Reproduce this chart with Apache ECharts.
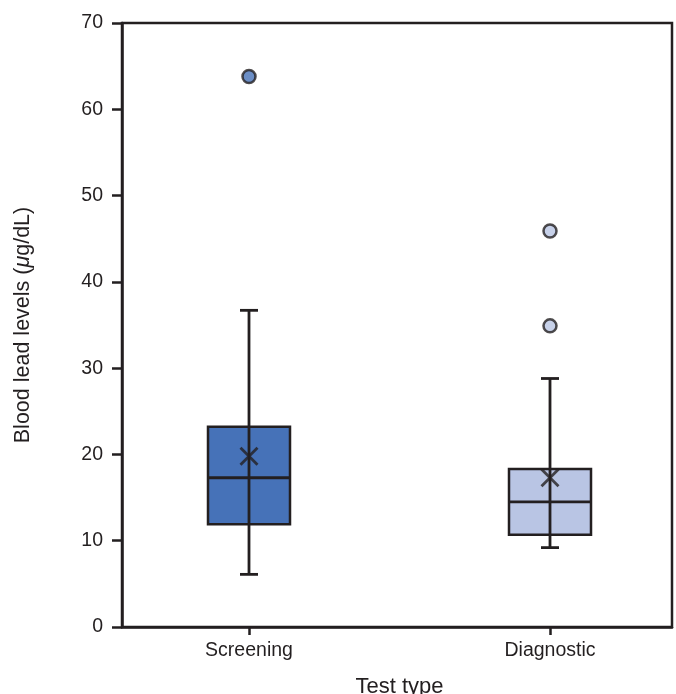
<!DOCTYPE html>
<html>
<head>
<meta charset="utf-8">
<script src="https://cdn.jsdelivr.net/npm/echarts@6/dist/echarts.min.js"></script>
<style>html,body{margin:0;padding:0;background:#fff;}#c{width:676px;height:694px;}</style>
</head>
<body>
<div id="c"></div>
<script>
const categories = ['Screening', 'Diagnostic'];
// [min whisker, Q1, median, Q3, max whisker]
const boxStats = [
  [6.1, 11.9, 17.3, 23.2, 36.7],
  [9.2, 10.7, 14.5, 18.3, 28.8]
];
const means = [19.8, 17.3];
const outliers = [
  [0, 63.8],
  [1, 45.9],
  [1, 34.9]
];
const fillColors = ['#4672B8', '#B9C5E4'];
const yTicks = [0, 10, 20, 30, 40, 50, 60, 70];

const ink = '#231F20';
const font = 'Liberation Sans';

const boxData = boxStats.map((s, i) => [i].concat(s));
const meanData = means.map((m, i) => [i, m]);

const chart = echarts.init(document.getElementById('c'), null, {renderer: 'canvas'});
chart.setOption({
  animation: false,
  grid: [
    {left: 122, right: 4, top: 23, bottom: 67, show: true, borderColor: ink, borderWidth: 2.5,
     backgroundColor: 'transparent', containLabel: false, outerBoundsMode: 'none'},
    {left: 98.5, width: 602, top: 23, bottom: 67, containLabel: false, outerBoundsMode: 'none'}
  ],
  xAxis: [
    {gridIndex: 0, type: 'value', min: 0, max: 1, axisLine: {show: true, lineStyle: {color: ink, width: 2.5}},
     axisTick: {show: false}, axisLabel: {show: false}, splitLine: {show: false}},
    {gridIndex: 1, type: 'category', data: categories, axisLine: {show: false},
     axisTick: {show: true, alignWithLabel: true, length: 8, lineStyle: {color: ink, width: 2.5}},
     axisLabel: {color: ink, fontFamily: font, fontSize: 19.5, margin: 14},
     name: 'Test type', nameLocation: 'middle', nameGap: 49,
     nameTextStyle: {color: ink, fontFamily: font, fontSize: 22}}
  ],
  yAxis: [
    {gridIndex: 0, type: 'value', min: 0, max: 70, interval: 10,
     axisLine: {show: true, lineStyle: {color: ink, width: 2.5}},
     axisTick: {show: true, length: 10, lineStyle: {color: ink, width: 2.5}},
     axisLabel: {color: ink, fontFamily: font, fontSize: 19.5, margin: 19,
       formatter: v => yTicks.includes(v) ? String(v) : ''},
     splitLine: {show: false},
     name: '{a|Blood lead levels (}{i|μ}{a|g/dL)}', nameLocation: 'middle', nameGap: 88,
     nameTextStyle: {color: ink, fontFamily: font, fontSize: 21.5,
       rich: {a: {color: ink, fontFamily: font, fontSize: 21.5}, i: {color: ink, fontFamily: font, fontSize: 21.5, fontStyle: 'italic'}}}},
    {gridIndex: 1, type: 'value', min: 0, max: 70, interval: 10, show: false}
  ],
  series: [
    {
      type: 'custom', xAxisIndex: 1, yAxisIndex: 1, data: boxData,
      encode: {x: 0, y: [1, 2, 3, 4, 5]},
      renderItem: function (params, api) {
        const idx = api.value(0);
        const c = k => api.coord([idx, api.value(k)]);
        const pMin = c(1), pQ1 = c(2), pMed = c(3), pQ3 = c(4), pMax = c(5);
        const x = pMin[0];
        const bw = 82, cw = 18;
        const ls = {stroke: ink, lineWidth: 2.8, fill: null};
        return {
          type: 'group',
          children: [
            {type: 'line', shape: {x1: x, y1: pMax[1], x2: x, y2: pQ3[1]}, style: ls},
            {type: 'line', shape: {x1: x, y1: pQ1[1], x2: x, y2: pMin[1]}, style: ls},
            {type: 'line', shape: {x1: x - cw / 2, y1: pMax[1], x2: x + cw / 2, y2: pMax[1]}, style: ls},
            {type: 'line', shape: {x1: x - cw / 2, y1: pMin[1], x2: x + cw / 2, y2: pMin[1]}, style: ls},
            {type: 'rect', shape: {x: x - bw / 2, y: pQ3[1], width: bw, height: pQ1[1] - pQ3[1]},
             style: {fill: fillColors[idx], stroke: ink, lineWidth: 2.5}},
            {type: 'line', shape: {x1: x, y1: pQ3[1], x2: x, y2: pQ1[1]}, style: ls},
            {type: 'line', shape: {x1: x - bw / 2, y1: pMed[1], x2: x + bw / 2, y2: pMed[1]}, style: ls}
          ]
        };
      },
      z: 2
    },
    {
      type: 'scatter', xAxisIndex: 1, yAxisIndex: 1, data: meanData,
      symbol: 'path://M0,0L10,10M10,0L0,10', symbolSize: 17,
      itemStyle: {color: 'none', borderColor: ink, borderWidth: 2.8},
      z: 5
    },
    {
      type: 'scatter', xAxisIndex: 1, yAxisIndex: 1, data: outliers,
      symbol: 'circle', symbolSize: 13,
      itemStyle: {
        color: p => fillColors[p.data[0]],
        borderColor: ink, borderWidth: 2.5
      },
      z: 5
    }
  ]
});
</script>
</body>
</html>
